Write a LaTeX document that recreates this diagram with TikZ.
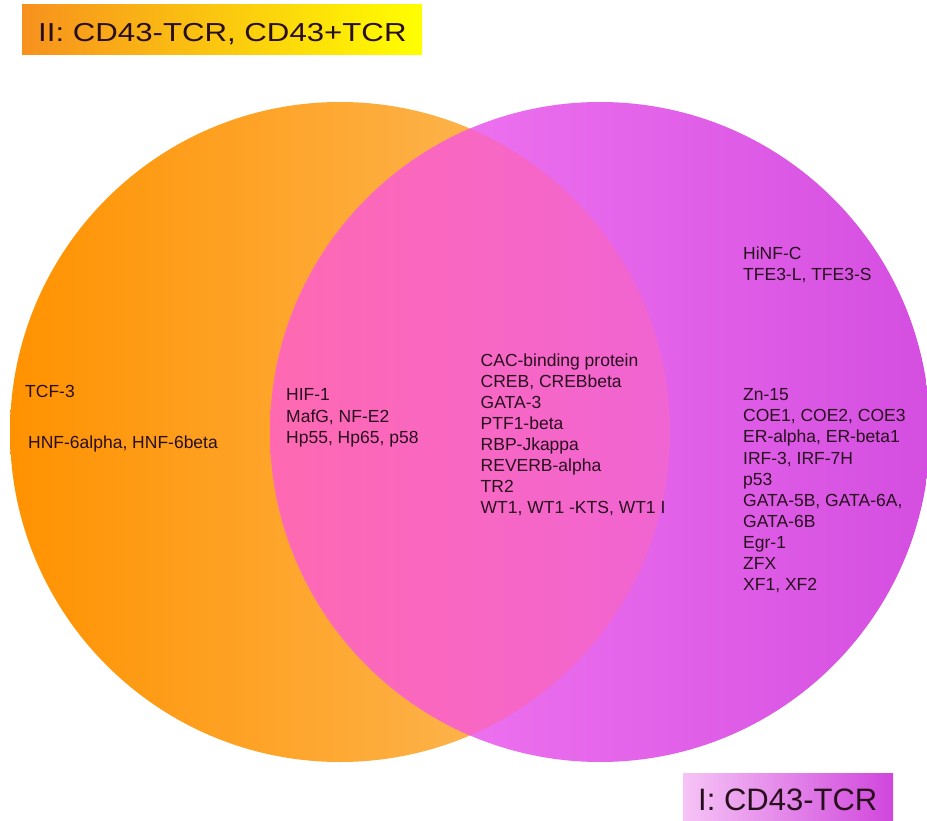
\documentclass[tikz,border=0pt]{standalone}
\usepackage{fontspec}
\setmainfont{Liberation Sans}
\definecolor{or1}{RGB}{255,146,0}
\definecolor{or2}{RGB}{252,192,105}
\definecolor{mg1}{RGB}{247,127,245}
\definecolor{mg2}{RGB}{212,78,224}
\definecolor{ov1}{RGB}{255,105,178}
\definecolor{ov2}{RGB}{231,98,232}
\definecolor{tl1}{RGB}{247,145,30}
\definecolor{tl2}{RGB}{255,255,0}
\definecolor{bl1}{RGB}{246,196,246}
\definecolor{bl2}{RGB}{208,70,220}
\definecolor{txt}{RGB}{40,15,30}
\begin{document}
\begin{tikzpicture}[x=1pt,y=-1pt,
  lbl/.style={inner sep=0pt, anchor=base west, text=txt, font=\fontsize{17.5}{21}\selectfont}]
\useasboundingbox (0,0) rectangle (927,821);
\fill[white] (0,0) rectangle (927,821);
% circles
\shade[left color=or1, right color=or2] (340,432) circle[radius=330pt];
\shade[left color=mg1, right color=mg2] (600,432) circle[radius=330pt];
\begin{scope}
  \clip (340,432) circle[radius=330pt];
  \shade[left color=ov1, right color=ov2] (600,432) circle[radius=330pt];
\end{scope}
% title boxes
\shade[left color=tl1, right color=tl2] (22,5) rectangle (422,55);
\node[inner sep=0pt, anchor=base west, text=txt, font=\fontsize{26}{30}\selectfont] (title2) at (38,41.7) {\scalebox{1.2}[1]{II: CD43-TCR, CD43+TCR}};
\shade[left color=bl1, right color=bl2] (683,773) rectangle (893,823);
\node[inner sep=0pt, anchor=base west, text=txt, font=\fontsize{31}{36}\selectfont] (title1) at (698,810) {I: CD43-TCR};
% left only
\node[lbl] (tcf) at (25,397) {TCF-3};
\node[lbl] (hnf) at (28,448) {HNF-6alpha, HNF-6beta};
% overlap left
\foreach \t [count=\i] in {{HIF-1},{MafG, NF-E2},{Hp55, Hp65, p58}}
  \node[lbl] (ol\i) at ({286},{400.7+21.4*(\i-1)}) {\t};
% overlap centre
\foreach \t [count=\i] in {{CAC-binding protein},{CREB, CREBbeta},{GATA-3},{PTF1-beta},{RBP-Jkappa},{REVERB-alpha},{TR2},{WT1, WT1 -KTS, WT1 I}}
  \node[lbl] (oc\i) at ({480.5},{366+21*(\i-1)}) {\t};
% right only upper
\foreach \t [count=\i] in {{HiNF-C},{TFE3-L, TFE3-S}}
  \node[lbl] (ru\i) at ({743},{259.5+21*(\i-1)}) {\t};
% right only lower
\foreach \t [count=\i] in {{Zn-15},{COE1, COE2, COE3},{ER-alpha, ER-beta1},{IRF-3, IRF-7H},{p53},{GATA-5B, GATA-6A,},{GATA-6B},{Egr-1},{ZFX},{XF1, XF2}}
  \node[lbl] (rl\i) at ({743},{400.7+21.1*(\i-1)}) {\t};
\end{tikzpicture}
\end{document}
